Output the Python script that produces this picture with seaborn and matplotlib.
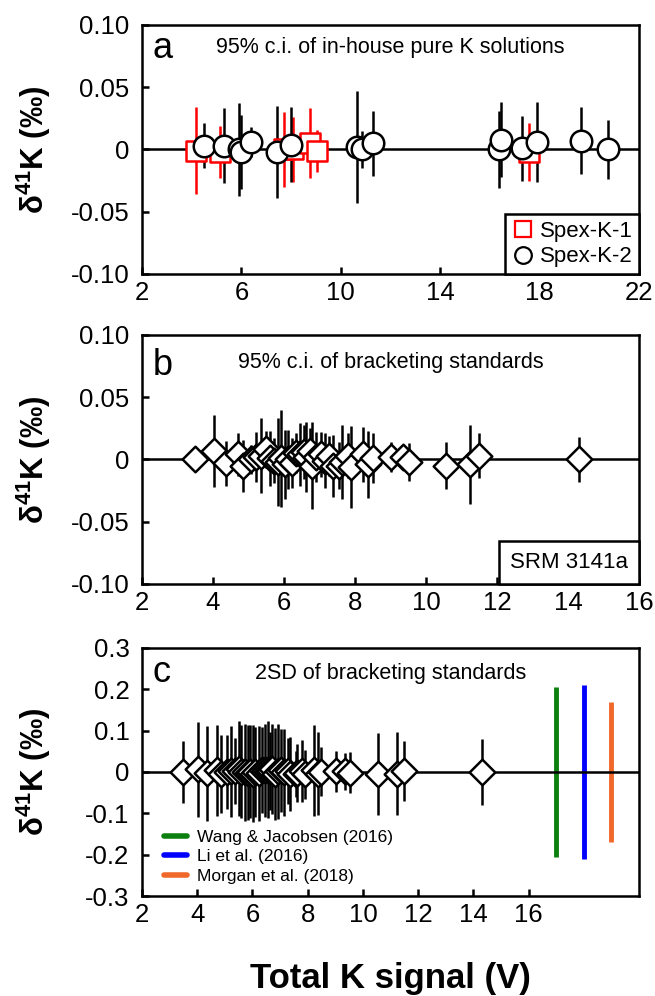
import numpy as np
import pandas as pd
import matplotlib
matplotlib.use("Agg")
import matplotlib.pyplot as plt
import seaborn as sns
from matplotlib.lines import Line2D
from matplotlib.offsetbox import AnchoredText

# panel a - in-house pure K solutions
spex1_signal = [4.16, 5.13, 7.72, 8.06, 8.76, 9.05, 17.56]
spex1_delta = [-0.001, -0.002, 0.000, 0.000, 0.005, -0.001, -0.002]
spex1_ci = [0.035, 0.021, 0.030, 0.026, 0.028, 0.017, 0.023]

spex2_signal = [4.48, 5.30, 5.91, 6.00, 6.38, 7.45, 8.00, 10.64, 10.84, 11.31,
                16.38, 16.46, 17.29, 17.90, 19.67, 20.76]
spex2_delta = [0.003, 0.003, 0.000, -0.002, 0.006, -0.002, 0.004, 0.002, 0.000, 0.005,
               0.000, 0.008, 0.001, 0.006, 0.007, 0.000]
spex2_ci = [0.018, 0.030, 0.037, 0.030, 0.012, 0.037, 0.030, 0.045, 0.015, 0.026,
            0.031, 0.030, 0.026, 0.032, 0.027, 0.024]

# panels b and c - bracketing standards (SRM 3141a)
std_signal = [3.49, 4.03, 4.37, 4.70, 4.85, 5.07, 5.22, 5.36, 5.50, 5.60,
              5.72, 5.84, 5.92, 6.02, 6.10, 6.22, 6.35, 6.44, 6.55, 6.63,
              6.72, 6.80, 6.91, 7.05, 7.15, 7.28, 7.37, 7.56, 7.62, 7.80,
              7.90, 8.22, 8.36, 8.50, 9.01, 9.34, 9.53, 10.55, 11.25, 11.48, 14.30]
std_delta = [0.000, 0.007, -0.003, 0.004, -0.005, 0.000, 0.002, 0.003, 0.008, 0.001,
             -0.001, -0.002, 0.001, -0.004, 0.000, -0.003, 0.005, 0.004, 0.006, 0.002,
             0.007, -0.005, 0.002, 0.004, -0.001, 0.003, -0.005, -0.005, -0.002, 0.003,
             -0.006, 0.004, -0.004, 0.001, 0.002, 0.002, -0.002, -0.005, -0.004, 0.003, 0.000]
std_ci95 = [0.008, 0.029, 0.018, 0.017, 0.021, 0.012, 0.020, 0.030, 0.015, 0.022,
            0.018, 0.035, 0.039, 0.028, 0.024, 0.020, 0.016, 0.025, 0.022, 0.028,
            0.018, 0.035, 0.020, 0.018, 0.022, 0.016, 0.025, 0.019, 0.030, 0.018,
            0.033, 0.022, 0.027, 0.020, 0.012, 0.010, 0.015, 0.019, 0.032, 0.018, 0.018]
std_2sd = [0.074, 0.115, 0.115, 0.110, 0.095, 0.090, 0.110, 0.080, 0.115, 0.112,
           0.118, 0.115, 0.112, 0.118, 0.110, 0.115, 0.105, 0.112, 0.118, 0.095,
           0.108, 0.112, 0.115, 0.100, 0.105, 0.080, 0.090, 0.055, 0.070, 0.075,
           0.060, 0.110, 0.100, 0.060, 0.050, 0.045, 0.050, 0.100, 0.100, 0.073, 0.080]

# literature 2SD for comparison
ref_labels = ["Wang & Jacobsen (2016)", "Li et al. (2016)", "Morgan et al. (2018)"]
ref_x = [17, 18, 19]
ref_2sd = [0.205, 0.21, 0.17]
ref_colors = ["#0b800f", "#0000ff", "#f0692a"]

sns.set_style("ticks")
plt.rcParams["font.family"] = ["Liberation Sans", "DejaVu Sans"]
plt.rcParams["axes.unicode_minus"] = False
plt.rcParams["mathtext.fontset"] = "custom"
plt.rcParams["mathtext.rm"] = "Liberation Sans:bold"
plt.rcParams["mathtext.bf"] = "Liberation Sans:bold"
plt.rcParams["mathtext.default"] = "bf"
plt.rcParams["text.color"] = "black"
plt.rcParams["axes.labelcolor"] = "black"

fig = plt.figure(figsize=(6.55, 9.96), dpi=100)
ax_a = fig.add_axes([0.2168, 0.7249, 0.7588, 0.25])
ax_b = fig.add_axes([0.2168, 0.4137, 0.7588, 0.25])
ax_c = fig.add_axes([0.2168, 0.1004, 0.7588, 0.249])

LW = 1.8


def style_axes(ax, xticks, xlim, yticks, yticklabels, ylim):
    ax.set_xlim(xlim)
    ax.set_xticks(xticks)
    ax.set_xticklabels([str(t) for t in xticks])
    ax.set_ylim(ylim)
    ax.set_yticks(yticks)
    ax.set_yticklabels(yticklabels)
    for sp in ax.spines.values():
        sp.set_visible(True)
        sp.set_color("black")
        sp.set_linewidth(1.8)
    ax.tick_params(axis="both", direction="in", length=5, width=1.8,
                   labelsize=18.5, colors="black")
    ax.tick_params(axis="y", pad=9)
    ax.tick_params(axis="x", pad=5)
    ax.axhline(0, color="black", lw=1.8, zorder=2)
    ax.set_xlabel("")
    ax.set_ylabel("δ$^{41}$K (‰)", fontsize=22.5, fontweight="bold", color="black")
    ax.yaxis.set_label_coords(-0.18, 0.5)


# ---- panel a
ax_a.errorbar(spex1_signal, spex1_delta, yerr=spex1_ci, fmt="none",
              ecolor="red", elinewidth=LW, zorder=3)
ax_a.errorbar(spex2_signal, spex2_delta, yerr=spex2_ci, fmt="none",
              ecolor="black", elinewidth=LW, zorder=3)
sns.scatterplot(x=spex1_signal, y=spex1_delta, marker="s", s=200, color="white",
                edgecolor="red", linewidth=LW, ax=ax_a, zorder=4)
sns.scatterplot(x=spex2_signal, y=spex2_delta, marker="o", s=240, color="white",
                edgecolor="black", linewidth=LW, ax=ax_a, zorder=5)
style_axes(ax_a, [2, 6, 10, 14, 18, 22], (2, 22),
           [-0.10, -0.05, 0, 0.05, 0.10], ["-0.10", "-0.05", "0", "0.05", "0.10"], (-0.10, 0.10))
ax_a.text(0.022, 0.866, "a", transform=ax_a.transAxes, fontsize=26, va="baseline")
ax_a.text(0.5, 0.886, "95% c.i. of in-house pure K solutions", transform=ax_a.transAxes,
          fontsize=15.5, ha="center", va="baseline")
handles_a = [Line2D([], [], marker="s", ls="none", mfc="white", mec="red", ms=11, mew=1.6),
             Line2D([], [], marker="o", ls="none", mfc="white", mec="black", ms=12, mew=1.6)]
leg_a = ax_a.legend(handles_a, ["Spex-K-1", "Spex-K-2"], loc="lower right", borderaxespad=0,
                    frameon=True, fancybox=False, edgecolor="black", framealpha=1,
                    fontsize=16, handletextpad=0.25, handlelength=1.0, labelspacing=0.2,
                    borderpad=0.3)
leg_a.get_frame().set_linewidth(1.8)

# ---- panel b
ax_b.errorbar(std_signal, std_delta, yerr=std_ci95, fmt="none",
              ecolor="black", elinewidth=LW, zorder=3)
sns.scatterplot(x=std_signal, y=std_delta, marker="D", s=170, color="white",
                edgecolor="black", linewidth=LW, ax=ax_b, zorder=4)
style_axes(ax_b, list(range(2, 17, 2)), (2, 16),
           [-0.10, -0.05, 0, 0.05, 0.10], ["-0.10", "-0.05", "0", "0.05", "0.10"], (-0.10, 0.10))
ax_b.text(0.022, 0.839, "b", transform=ax_b.transAxes, fontsize=26, va="baseline")
ax_b.text(0.5, 0.866, "95% c.i. of bracketing standards", transform=ax_b.transAxes,
          fontsize=15.5, ha="center", va="baseline")
srm = AnchoredText("SRM 3141a", loc="lower right", prop=dict(size=16), frameon=True,
                   borderpad=0, pad=0.5)
srm.patch.set_boxstyle("square,pad=0")
srm.patch.set_edgecolor("black")
srm.patch.set_linewidth(1.8)
ax_b.add_artist(srm)

# ---- panel c
ax_c.vlines(ref_x, [-v for v in ref_2sd], ref_2sd, colors=ref_colors, lw=3.5, zorder=1)
ax_c.errorbar(std_signal, std_delta, yerr=std_2sd, fmt="none",
              ecolor="black", elinewidth=LW, zorder=3)
sns.scatterplot(x=std_signal, y=std_delta, marker="D", s=170, color="white",
                edgecolor="black", linewidth=LW, ax=ax_c, zorder=4)
style_axes(ax_c, list(range(2, 17, 2)), (2, 20),
           [-0.3, -0.2, -0.1, 0, 0.1, 0.2, 0.3],
           ["-0.3", "-0.2", "-0.1", "0", "0.1", "0.2", "0.3"], (-0.3, 0.3))
ax_c.text(0.022, 0.864, "c", transform=ax_c.transAxes, fontsize=26, va="baseline")
ax_c.text(0.5, 0.875, "2SD of bracketing standards", transform=ax_c.transAxes,
          fontsize=15.5, ha="center", va="baseline")
handles_c = [Line2D([], [], color=c, lw=4) for c in ref_colors]
ax_c.legend(handles_c, ref_labels, loc="lower left", bbox_to_anchor=(0.02, 0.0),
            frameon=False, fontsize=12.5, handlelength=1.3, handletextpad=0.6,
            labelspacing=0.25, borderaxespad=0.3)

ax_c.set_xlabel("Total K signal (V)", fontsize=25, fontweight="bold", color="black")
ax_c.xaxis.set_label_coords(0.5, -0.265)

fig.savefig("out.png", dpi=100)
